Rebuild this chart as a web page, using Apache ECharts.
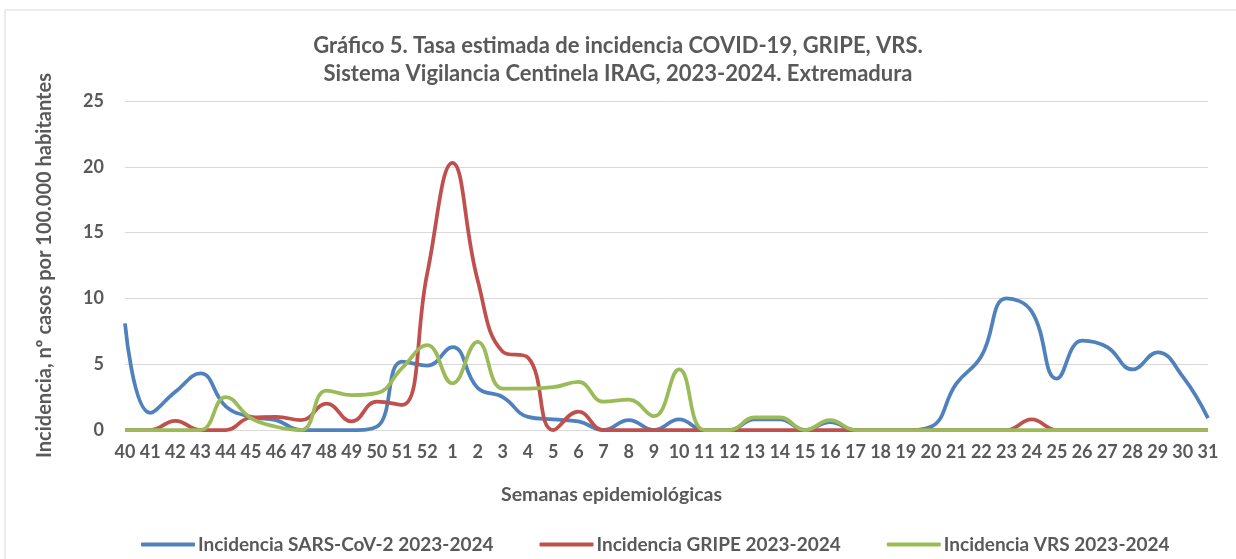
<!DOCTYPE html>
<html>
<head>
<meta charset="utf-8">
<script src="https://cdn.jsdelivr.net/npm/echarts@6/dist/echarts.min.js"></script>
<style>
  html, body { margin: 0; padding: 0; background: #fff; }
  #chart { width: 1236px; height: 559px; }
</style>
</head>
<body>
<div id="chart"></div>
<script>
// semanas 40-52 de 2023 y 1-31 de 2024
const weeks = ['40', '41', '42', '43', '44', '45', '46', '47', '48', '49', '50', '51', '52',
  '1', '2', '3', '4', '5', '6', '7', '8', '9', '10', '11', '12', '13', '14', '15', '16',
  '17', '18', '19', '20', '21', '22', '23', '24', '25', '26', '27', '28', '29', '30', '31']

const sarsCov2 = [8.1, 1.3, 2.9, 4.3, 1.8, 1.0, 0.75, 0, 0, 0, 0.25, 5.2, 4.9,
  6.3, 3.2, 2.5, 1.0, 0.8, 0.65, 0, 0.75, 0, 0.8, 0, 0, 0.8, 0.8, 0, 0.6,
  0, 0, 0, 0.25, 3.5, 5.6, 10.0, 9.0, 3.9, 6.8, 6.3, 4.6, 5.9, 4.05, 0.9]

const gripe = [0, 0, 0.7, 0, 0, 0.95, 1.0, 0.75, 2.0, 0.65, 2.15, 1.9, 11.9,
  20.3, 11.4, 5.95, 5.5, 0, 1.4, 0, 0, 0, 0, 0, 0, 0, 0, 0, 0,
  0, 0, 0, 0, 0, 0, 0, 0.8, 0, 0, 0, 0, 0, 0, 0]

const vrs = [0, 0, 0, 0, 2.5, 0.9, 0.25, 0, 3.0, 2.65, 2.8, 4.7, 6.45,
  3.55, 6.7, 3.15, 3.15, 3.25, 3.65, 2.15, 2.3, 1.05, 4.6, 0, 0, 0.95, 0.95, 0, 0.75,
  0, 0, 0, 0, 0, 0, 0, 0, 0, 0, 0, 0, 0, 0, 0]

const seriesNames = ['Incidencia SARS-CoV-2 2023-2024', 'Incidencia GRIPE 2023-2024', 'Incidencia VRS 2023-2024']
const seriesColors = ['#4f81bd', '#c0504d', '#9bbb59']

const FONT = 'Lato, "Open Sans", sans-serif'
const TEXT = '#595959'

const chart = echarts.init(document.getElementById('chart'))

const makeLine = (name, data, color) => ({
  name,
  type: 'line',
  data,
  smooth: 0.45,
  showSymbol: false,
  lineStyle: { width: 3.75, color },
  itemStyle: { color }
})

chart.setOption({
  animation: false,
  textStyle: { fontFamily: FONT },
  graphic: [{
    type: 'rect',
    shape: { x: 5, y: 10, width: 1240, height: 560 },
    style: { fill: 'none', stroke: '#d9d9d9', lineWidth: 1 },
    silent: true
  }],
  title: {
    text: 'Gráfico 5. Tasa estimada de incidencia COVID-19, GRIPE, VRS.\nSistema Vigilancia Centinela IRAG, 2023-2024. Extremadura',
    left: 'center',
    top: 32,
    padding: 0,
    textStyle: { fontFamily: FONT, fontSize: 22, fontWeight: 'bold', color: TEXT, lineHeight: 28 }
  },
  legend: {
    bottom: 5,
    left: 141,
    padding: 0,
    itemWidth: 54,
    itemHeight: 4,
    itemGap: 46,
    icon: 'roundRect',
    textStyle: { fontFamily: FONT, fontSize: 19, fontWeight: 'bold', color: TEXT, padding: [0, 0, 0, -2] },
    data: seriesNames
  },
  grid: { left: 125, right: 28, top: 101, bottom: 129 },
  xAxis: {
    type: 'category',
    data: weeks,
    boundaryGap: false,
    name: 'Semanas epidemiológicas',
    nameLocation: 'middle',
    nameGap: 55,
    nameTextStyle: { fontFamily: FONT, fontSize: 19.5, fontWeight: 'bold', color: TEXT, padding: [0, 110, 0, 0] },
    axisLine: { lineStyle: { color: '#d9d9d9' } },
    axisTick: { show: false },
    axisLabel: { interval: 0, margin: 13, fontFamily: FONT, fontSize: 18, fontWeight: 'bold', color: TEXT }
  },
  yAxis: {
    type: 'value',
    min: 0,
    max: 25,
    interval: 5,
    name: 'Incidencia, nº casos por 100.000 habitantes',
    nameLocation: 'middle',
    nameGap: 70,
    nameRotate: 90,
    nameTextStyle: { fontFamily: FONT, fontSize: 20, fontWeight: 'bold', color: TEXT },
    axisLine: { show: false },
    axisTick: { show: false },
    axisLabel: { margin: 21, fontFamily: FONT, fontSize: 18, fontWeight: 'bold', color: TEXT },
    splitLine: { lineStyle: { color: '#d9d9d9', width: 1 } }
  },
  series: [
    makeLine(seriesNames[0], sarsCov2, seriesColors[0]),
    makeLine(seriesNames[1], gripe, seriesColors[1]),
    makeLine(seriesNames[2], vrs, seriesColors[2])
  ]
})
</script>
</body>
</html>
